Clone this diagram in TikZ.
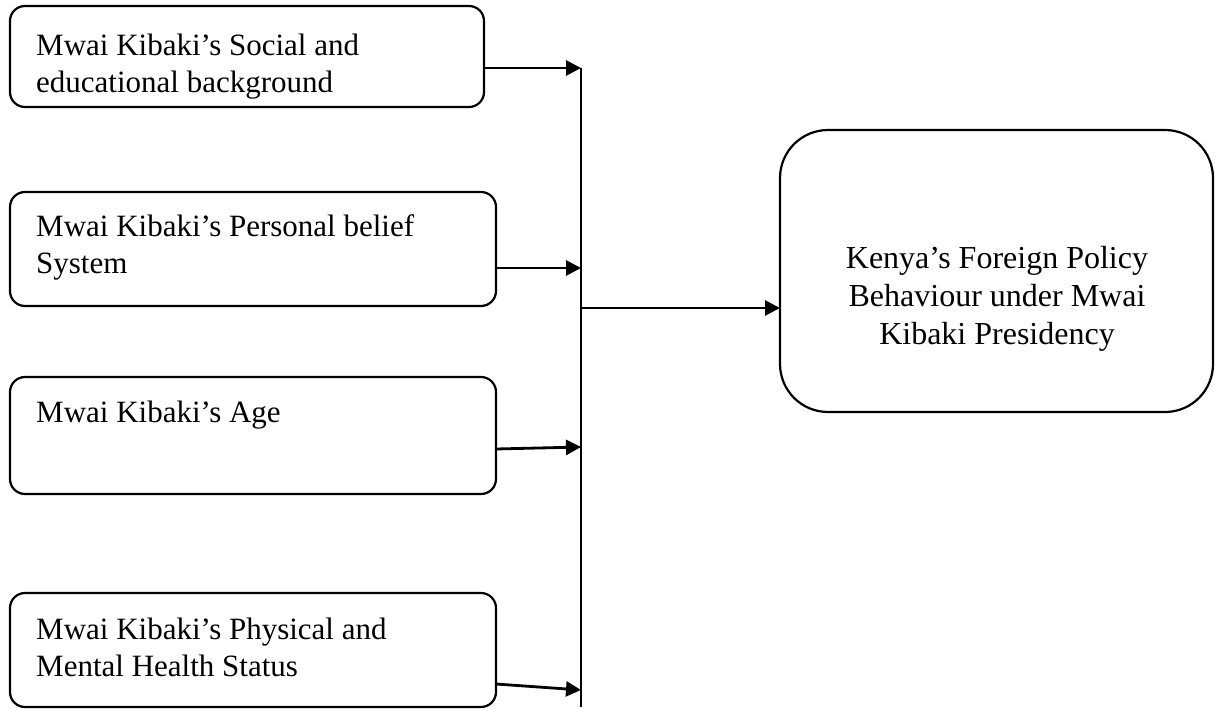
\documentclass[tikz,border=0pt]{standalone}
\usepackage{fontspec}
\setmainfont{Liberation Serif}
\usetikzlibrary{arrows.meta}
\begin{document}
\begin{tikzpicture}[x=1pt,y=-1pt,
  box/.style={draw,line width=2.2pt,rounded corners=15pt,anchor=north west,inner sep=0pt,outer sep=0pt},
  bigbox/.style={draw,line width=2.2pt,rounded corners=48pt,anchor=north west,inner sep=0pt,outer sep=0pt},
  txt/.style={anchor=north west,inner sep=0pt,align=left,font=\fontsize{31}{37}\selectfont},
  ctxt/.style={anchor=north,inner sep=0pt,align=center,font=\fontsize{32}{38}\selectfont},
  arr/.style={line width=2.8pt,-{Triangle[length=15pt,width=15pt]}},
  bus/.style={line width=2.8pt}]
\useasboundingbox (0,0) rectangle (1215,709);
\node[box,minimum width=474pt,minimum height=101pt] (b1) at (10,6) {};
\node[box,minimum width=486pt,minimum height=114pt] (b2) at (10,192) {};
\node[box,minimum width=486pt,minimum height=117pt] (b3) at (10,377) {};
\node[box,minimum width=486pt,minimum height=114pt] (b4) at (10,593) {};
\node[bigbox,minimum width=433pt,minimum height=282pt] (out) at (780,130) {};
\node[txt] (t1) at (36,34) {Mwai Kibaki’s Social and\\educational background};
\node[txt] (t2) at (36,214) {Mwai Kibaki’s Personal belief\\System};
\node[txt] (t3) at (36,401) {Mwai Kibaki’s Age};
\node[txt] (t4) at (36,618) {Mwai Kibaki’s Physical and\\Mental Health Status};
\node[ctxt] (t5) at (997,246) {Kenya’s Foreign Policy\\Behaviour under Mwai\\Kibaki Presidency};
\coordinate (top) at (581,68);
\coordinate (bot) at (581,707);
\coordinate (j2) at (581,268);
\coordinate (j3) at (581,447);
\coordinate (j4) at (581,690);
\coordinate (jo) at (581,308);
\coordinate (s3) at (496,449);
\coordinate (s4) at (496,684);
\draw[bus] (top) -- (bot);
\draw[arr] (b1.east |- top) -- (top);
\draw[arr] (b2.east |- j2) -- (j2);
\draw[arr] (s3) -- (j3);
\draw[arr] (s4) -- (j4);
\draw[arr] (jo) -- (out.west |- jo);
\end{tikzpicture}
\end{document}
